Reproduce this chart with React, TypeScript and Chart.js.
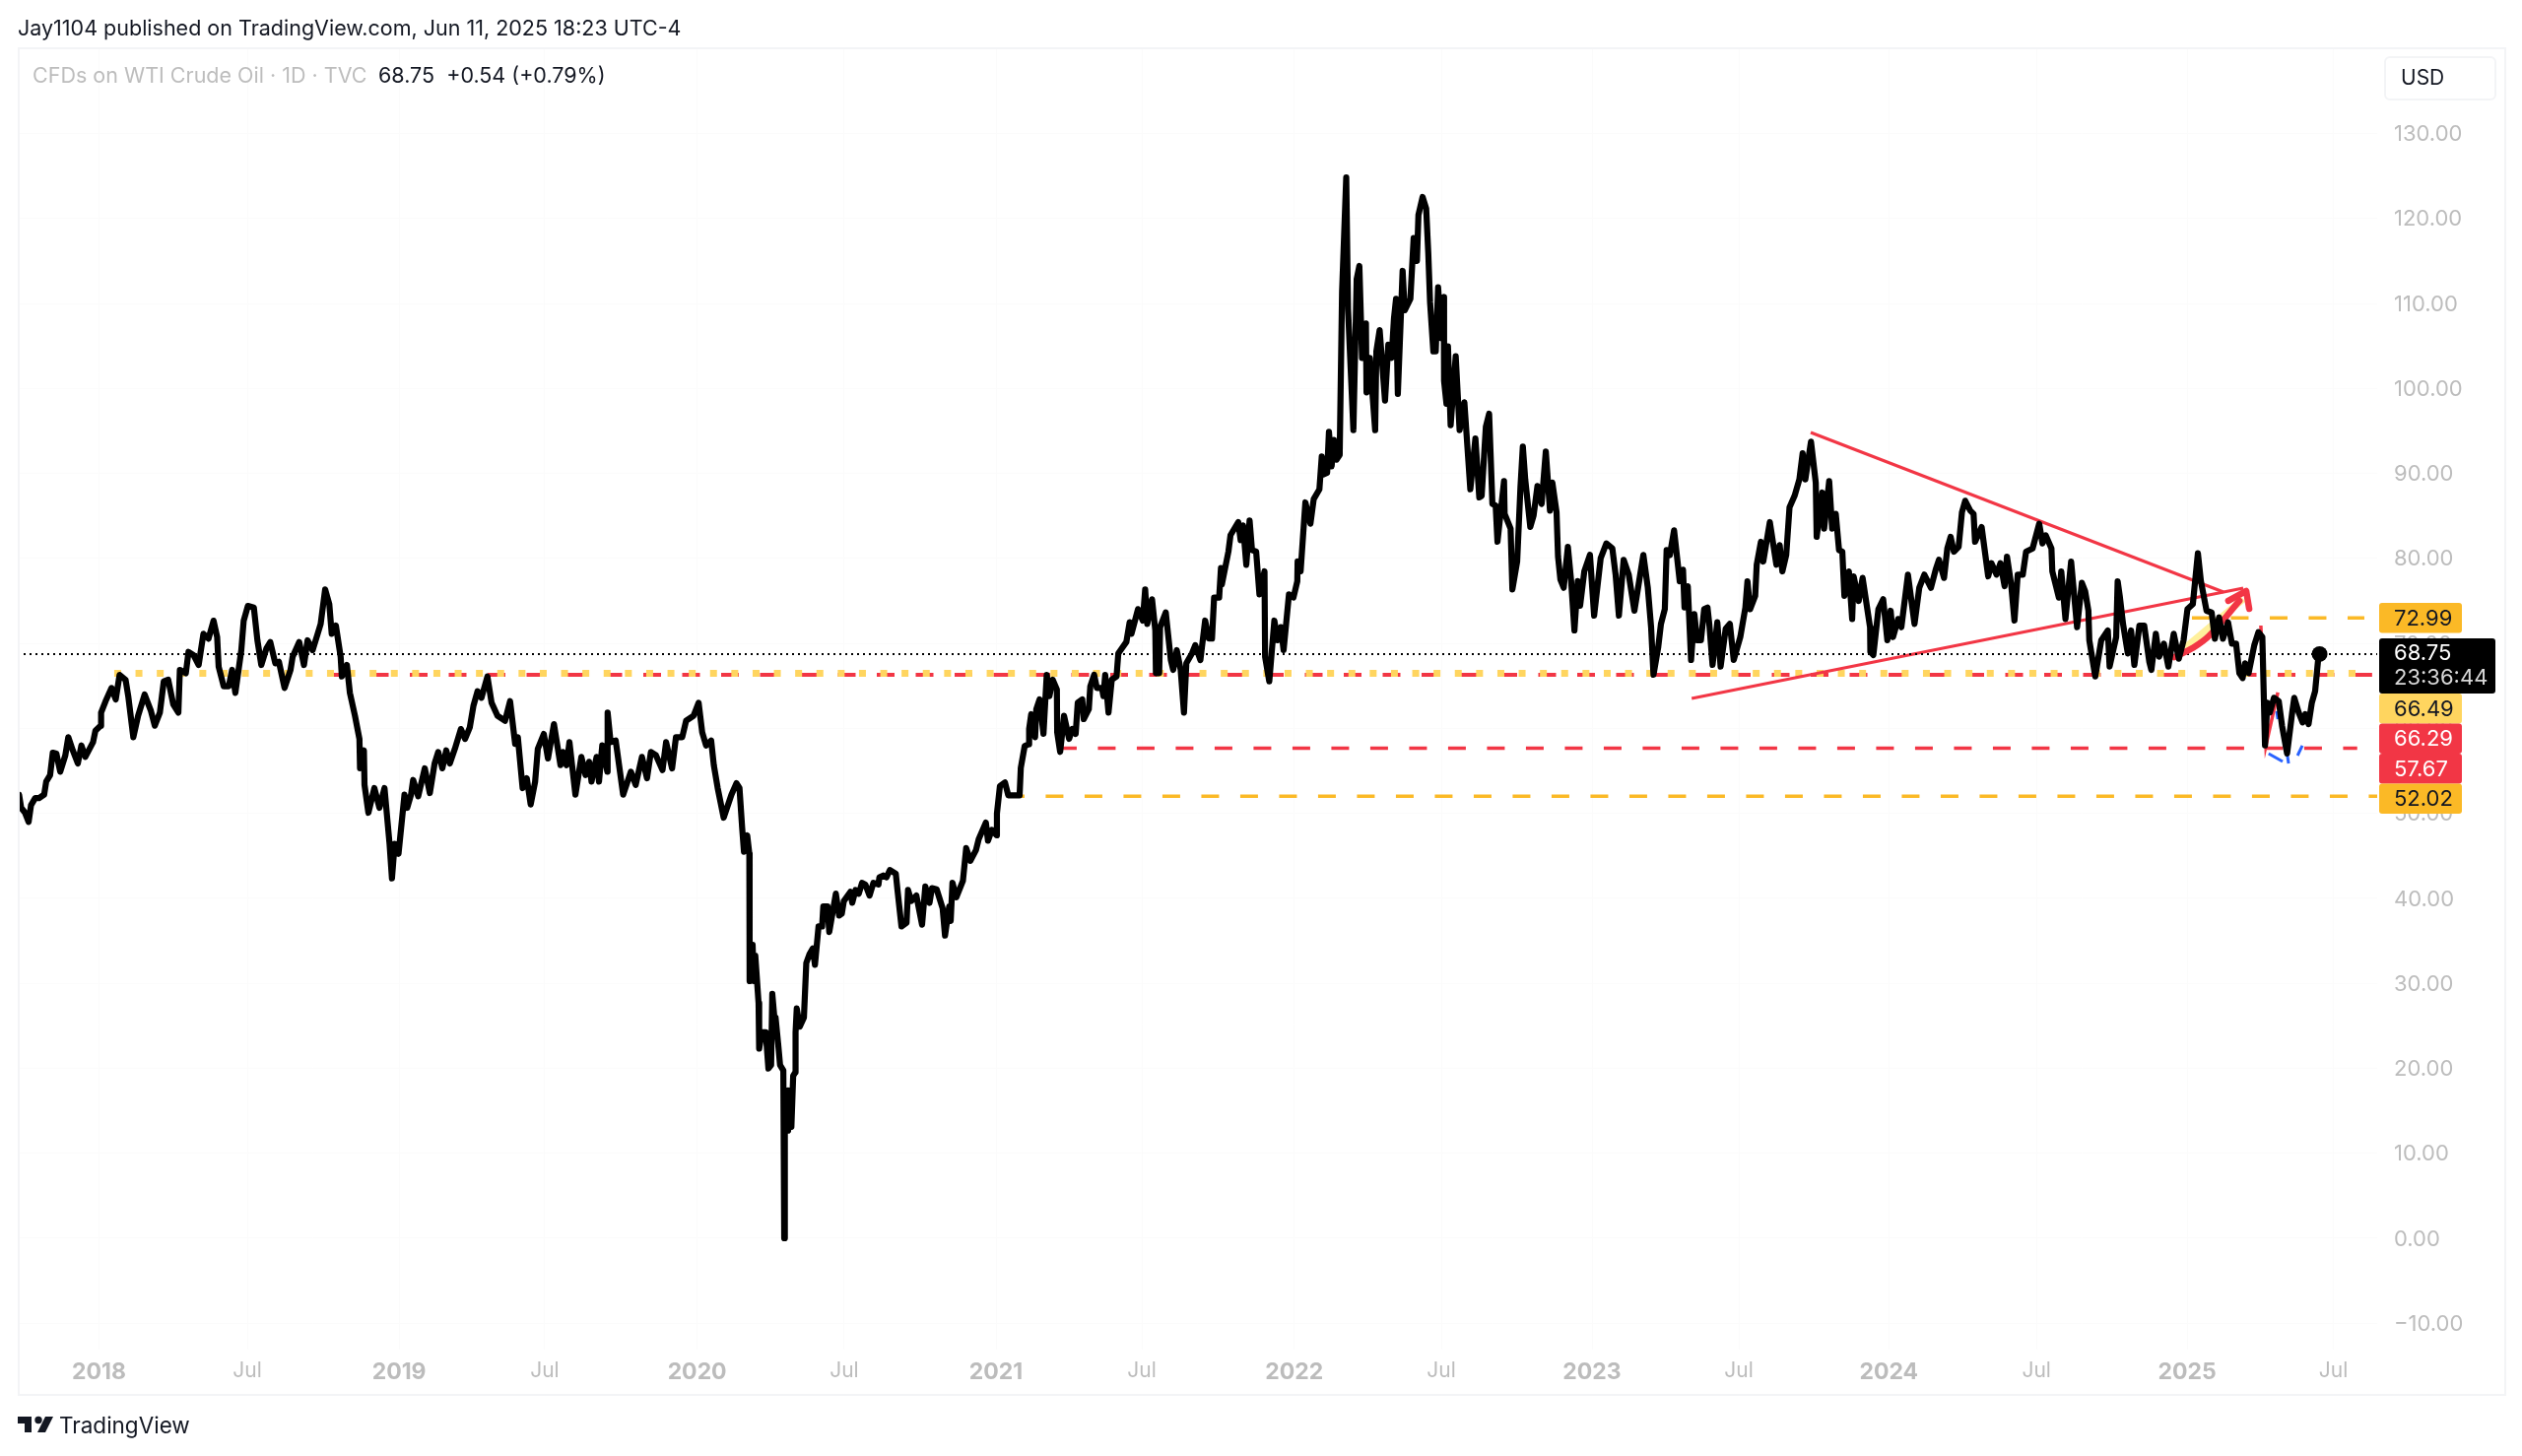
import { useEffect, useRef } from "react"
import { Chart, registerables } from "chart.js"

Chart.register(...registerables)

type Pt = [number, number]

// daily-ish closes, [decimal year, price]
const closes2017: Pt[] = [
  [2017.732, 52.2], [2017.739, 50.65], [2017.752, 50.07], [2017.764, 49.0], [2017.772, 50.96], [2017.786, 51.8], [2017.799, 51.8], [2017.816, 52.2],
  [2017.823, 53.74], [2017.836, 54.5], [2017.845, 57.14], [2017.857, 57.03], [2017.87, 54.9], [2017.887, 56.83], [2017.897, 58.96], [2017.912, 57.41],
  [2017.929, 55.87], [2017.941, 57.99], [2017.954, 56.64], [2017.98, 58.38], [2017.988, 59.73],
]
const closes2018: Pt[] = [
  [2018.005, 60.31], [2018.007, 61.85], [2018.022, 63.2], [2018.042, 64.75], [2018.056, 63.4], [2018.069, 66.3], [2018.089, 65.72], [2018.098, 63.79],
  [2018.115, 58.96], [2018.131, 61.47], [2018.153, 63.98], [2018.174, 62.05], [2018.187, 60.31], [2018.204, 61.85], [2018.217, 65.53], [2018.232, 65.72],
  [2018.249, 62.82], [2018.266, 61.85], [2018.271, 66.88], [2018.291, 66.49], [2018.3, 69.0], [2018.317, 68.6], [2018.334, 67.46], [2018.35, 71.13],
  [2018.367, 70.55], [2018.384, 72.67], [2018.396, 70.74], [2018.401, 67.26], [2018.418, 64.95], [2018.435, 64.95], [2018.446, 66.88], [2018.457, 64.17],
  [2018.477, 69.2], [2018.485, 72.67], [2018.499, 74.41], [2018.519, 74.22], [2018.531, 70.36], [2018.544, 67.46], [2018.561, 69.39], [2018.574, 70.16],
  [2018.591, 67.65], [2018.603, 67.84], [2018.622, 64.75], [2018.642, 66.88], [2018.649, 68.42], [2018.671, 70.16], [2018.687, 67.46], [2018.699, 70.36],
  [2018.716, 69.2], [2018.733, 71.13], [2018.743, 72.29], [2018.758, 76.35], [2018.772, 74.6], [2018.78, 71.13], [2018.794, 72.09], [2018.81, 68.42],
  [2018.814, 66.1], [2018.831, 67.46], [2018.841, 64.17], [2018.858, 61.47], [2018.873, 58.76], [2018.875, 55.3], [2018.888, 57.41], [2018.89, 53.35],
  [2018.903, 50.07], [2018.923, 52.97], [2018.94, 50.65], [2018.957, 52.97], [2018.974, 46.4], [2018.982, 42.34], [2018.991, 46.4],
]
const closes2019: Pt[] = [
  [2019.004, 45.24], [2019.024, 52.2], [2019.033, 50.65], [2019.046, 52.2], [2019.053, 53.93], [2019.07, 52.0], [2019.092, 55.3], [2019.109, 52.39],
  [2019.125, 55.87], [2019.137, 57.22], [2019.151, 55.3], [2019.164, 57.41], [2019.176, 55.87], [2019.193, 57.6], [2019.213, 59.92], [2019.227, 58.76],
  [2019.243, 60.12], [2019.255, 62.63], [2019.269, 64.37], [2019.282, 63.6], [2019.302, 66.1], [2019.316, 63.01], [2019.336, 61.47], [2019.361, 60.89],
  [2019.378, 63.2], [2019.395, 58.18], [2019.404, 58.96], [2019.42, 52.97], [2019.434, 54.13], [2019.447, 51.04], [2019.462, 53.74], [2019.471, 57.6],
  [2019.491, 59.34], [2019.505, 56.45], [2019.525, 60.5], [2019.547, 55.67], [2019.555, 57.22], [2019.567, 55.67], [2019.577, 58.38], [2019.597, 52.2],
  [2019.617, 56.64], [2019.631, 54.51], [2019.643, 56.06], [2019.651, 53.74], [2019.668, 56.64], [2019.676, 53.74], [2019.687, 57.99], [2019.704, 54.9],
  [2019.705, 61.85], [2019.715, 58.38], [2019.732, 58.57], [2019.757, 52.2], [2019.783, 54.9], [2019.799, 53.35], [2019.82, 56.64], [2019.837, 54.13],
  [2019.85, 57.22], [2019.867, 56.83], [2019.889, 55.09], [2019.901, 58.38], [2019.921, 55.29], [2019.934, 58.96], [2019.955, 58.96], [2019.968, 60.89],
  [2019.993, 61.47],
]
const closes2020: Pt[] = [
  [2020.01, 63.01], [2020.022, 59.54], [2020.035, 57.99], [2020.052, 58.57], [2020.061, 55.67], [2020.074, 52.97], [2020.094, 49.49], [2020.12, 52.2],
  [2020.137, 53.55], [2020.147, 52.98], [2020.156, 48.27], [2020.162, 45.48], [2020.173, 47.41], [2020.18, 45.26], [2020.181, 30.26], [2020.191, 34.54],
  [2020.195, 30.26], [2020.2, 33.26], [2020.211, 27.68], [2020.213, 22.32], [2020.222, 24.25], [2020.235, 24.25], [2020.244, 19.97], [2020.253, 20.39],
  [2020.257, 28.75], [2020.264, 25.97], [2020.268, 25.97], [2020.277, 22.75], [2020.283, 20.39], [2020.294, 19.75], [2020.297, 0.0], [2020.299, 17.39],
  [2020.308, 12.67], [2020.31, 17.39], [2020.321, 13.1], [2020.327, 19.11], [2020.334, 19.54], [2020.335, 24.25], [2020.339, 27.04], [2020.349, 24.9],
  [2020.363, 25.97], [2020.371, 32.4], [2020.382, 33.47], [2020.393, 34.11], [2020.4, 32.18], [2020.412, 36.69], [2020.424, 36.69], [2020.428, 39.05],
  [2020.442, 39.05], [2020.448, 36.04], [2020.47, 40.55], [2020.481, 37.97], [2020.49, 38.19], [2020.497, 39.69], [2020.519, 40.76], [2020.525, 39.47],
  [2020.536, 40.98], [2020.547, 40.55], [2020.558, 41.83], [2020.569, 41.62], [2020.583, 40.33], [2020.596, 41.83], [2020.613, 41.62], [2020.616, 42.48],
  [2020.629, 42.69], [2020.64, 42.48], [2020.651, 43.33], [2020.671, 42.91], [2020.676, 41.19], [2020.69, 36.69], [2020.707, 37.12], [2020.712, 40.98],
  [2020.723, 39.69], [2020.74, 40.33], [2020.759, 36.9], [2020.77, 41.4], [2020.784, 39.47], [2020.792, 41.19], [2020.808, 41.06], [2020.828, 38.83],
  [2020.836, 35.62], [2020.85, 39.05], [2020.855, 37.33], [2020.861, 41.83], [2020.874, 40.12], [2020.896, 42.05], [2020.907, 45.91], [2020.921, 44.41],
  [2020.94, 45.69], [2020.949, 46.98], [2020.973, 48.91], [2020.98, 46.77], [2020.993, 48.05],
]
const closes2021: Pt[] = [
  [2021.009, 47.41], [2021.01, 49.98], [2021.02, 53.2], [2021.037, 53.63], [2021.048, 52.12], [2021.086, 52.12], [2021.09, 55.34], [2021.103, 57.91],
  [2021.116, 58.13], [2021.118, 59.93], [2021.125, 61.67], [2021.138, 58.96], [2021.142, 62.25], [2021.153, 63.41], [2021.166, 59.35], [2021.177, 66.3],
  [2021.186, 63.79], [2021.197, 65.73], [2021.211, 64.57], [2021.212, 59.54], [2021.222, 57.23], [2021.235, 61.47], [2021.252, 58.77], [2021.263, 59.93],
  [2021.274, 59.35], [2021.281, 63.02], [2021.296, 63.41], [2021.301, 61.09], [2021.318, 62.25], [2021.323, 64.95], [2021.336, 66.3], [2021.345, 64.76],
  [2021.362, 64.76], [2021.367, 63.79], [2021.373, 66.3], [2021.384, 61.86], [2021.395, 65.73], [2021.411, 66.11], [2021.417, 68.82], [2021.444, 70.17],
  [2021.455, 72.49], [2021.461, 71.13], [2021.483, 74.03], [2021.499, 72.68], [2021.507, 76.35], [2021.514, 72.29], [2021.53, 75.19], [2021.541, 71.52],
  [2021.543, 66.5], [2021.554, 66.5], [2021.557, 71.91], [2021.576, 73.65], [2021.593, 68.04], [2021.601, 66.88], [2021.613, 69.2], [2021.626, 66.88],
  [2021.637, 61.86], [2021.645, 67.66], [2021.664, 68.82], [2021.675, 69.78], [2021.692, 68.04], [2021.708, 72.68], [2021.72, 70.56], [2021.731, 70.56],
  [2021.738, 75.39], [2021.755, 75.39], [2021.761, 78.86], [2021.764, 76.93], [2021.786, 80.79], [2021.793, 82.73], [2021.819, 84.27], [2021.827, 82.15],
  [2021.835, 83.89], [2021.846, 79.25], [2021.857, 84.47], [2021.865, 80.99], [2021.879, 80.8], [2021.89, 75.77], [2021.907, 78.48], [2021.909, 68.43],
  [2021.923, 65.53], [2021.94, 72.68], [2021.951, 70.36], [2021.962, 71.91], [2021.971, 69.2], [2021.989, 75.77],
]
const closes2022: Pt[] = [
  [2022.004, 75.39], [2022.017, 77.32], [2022.018, 79.64], [2022.028, 78.48], [2022.044, 86.59], [2022.061, 84.08], [2022.072, 86.98], [2022.091, 88.13],
  [2022.099, 92.0], [2022.104, 89.87], [2022.117, 90.07], [2022.123, 94.9], [2022.132, 90.84], [2022.14, 93.93], [2022.148, 91.61], [2022.159, 92.19],
  [2022.167, 111.32], [2022.181, 124.84], [2022.187, 109.39], [2022.205, 95.09], [2022.216, 112.86], [2022.225, 114.41], [2022.234, 103.59], [2022.247, 107.65],
  [2022.249, 99.53], [2022.26, 103.59], [2022.278, 95.09], [2022.282, 104.36], [2022.293, 106.87], [2022.311, 98.57], [2022.322, 105.14], [2022.333, 103.59],
  [2022.341, 108.23], [2022.348, 110.54], [2022.354, 99.34], [2022.37, 113.83], [2022.377, 109.19], [2022.396, 110.54], [2022.407, 117.69], [2022.418, 114.99],
  [2022.423, 120.4], [2022.437, 122.52], [2022.449, 121.17], [2022.456, 115.95], [2022.462, 110.16], [2022.473, 104.36], [2022.481, 104.36], [2022.489, 111.9],
  [2022.5, 105.91], [2022.508, 110.74], [2022.509, 100.88], [2022.517, 98.18], [2022.522, 104.94], [2022.531, 95.67], [2022.548, 103.78], [2022.561, 95.09],
  [2022.577, 98.37], [2022.597, 88.13], [2022.614, 94.12], [2022.627, 87.17], [2022.635, 87.36], [2022.649, 95.47], [2022.66, 97.02], [2022.671, 86.4],
  [2022.682, 86.2], [2022.688, 81.95], [2022.71, 89.1], [2022.712, 85.24], [2022.732, 83.5], [2022.738, 76.35], [2022.754, 79.63], [2022.765, 88.33],
  [2022.773, 93.16], [2022.781, 89.29], [2022.798, 83.69], [2022.809, 85.04], [2022.822, 88.52], [2022.836, 86.4], [2022.85, 92.58], [2022.864, 85.62],
  [2022.872, 88.91], [2022.886, 85.43], [2022.891, 80.21], [2022.899, 77.51], [2022.91, 76.54], [2022.924, 81.37], [2022.935, 77.32], [2022.946, 71.52],
  [2022.957, 77.32], [2022.965, 74.42], [2022.979, 78.47], [2022.998, 80.41],
]
const closes2023: Pt[] = [
  [2023.012, 73.26], [2023.034, 80.02], [2023.053, 81.76], [2023.073, 81.18], [2023.084, 78.09], [2023.095, 73.26], [2023.111, 79.83], [2023.128, 78.09],
  [2023.147, 73.84], [2023.177, 80.41], [2023.192, 76.54], [2023.203, 71.9], [2023.211, 66.3], [2023.227, 69.59], [2023.236, 72.29], [2023.249, 74.03],
  [2023.255, 80.98], [2023.266, 80.4], [2023.28, 83.3], [2023.299, 77.31], [2023.31, 78.67], [2023.315, 74.22], [2023.326, 76.73], [2023.337, 68.04],
  [2023.348, 73.45], [2023.357, 70.36], [2023.37, 70.36], [2023.381, 74.03], [2023.392, 74.22], [2023.398, 72.29], [2023.409, 67.46], [2023.425, 72.48],
  [2023.436, 67.27], [2023.453, 71.71], [2023.467, 72.29], [2023.48, 68.04], [2023.502, 70.74], [2023.519, 74.22], [2023.526, 77.31], [2023.535, 74.03],
  [2023.552, 75.58], [2023.557, 79.25], [2023.571, 81.95], [2023.579, 79.63], [2023.601, 84.27], [2023.623, 79.25], [2023.634, 81.56], [2023.643, 78.47],
  [2023.656, 80.4], [2023.667, 86.01], [2023.684, 87.36], [2023.7, 89.29], [2023.711, 92.38], [2023.72, 89.29], [2023.739, 93.74], [2023.755, 88.9],
  [2023.758, 82.53], [2023.777, 87.75], [2023.783, 83.5], [2023.8, 89.1], [2023.81, 83.5], [2023.822, 85.24], [2023.833, 80.98], [2023.844, 80.79],
  [2023.851, 75.58], [2023.866, 78.47], [2023.877, 72.87], [2023.882, 77.89], [2023.899, 74.99], [2023.912, 77.7], [2023.937, 71.9], [2023.938, 69.01],
  [2023.948, 68.62], [2023.965, 74.03], [2023.981, 75.19], [2023.995, 70.36],
]
const closes2024: Pt[] = [
  [2024.006, 73.84], [2024.014, 70.74], [2024.031, 72.87], [2024.042, 71.9], [2024.064, 78.09], [2024.086, 72.29], [2024.102, 76.54], [2024.119, 78.09],
  [2024.141, 76.54], [2024.157, 78.67], [2024.168, 79.83], [2024.185, 77.7], [2024.196, 81.18], [2024.207, 82.53], [2024.218, 80.79], [2024.234, 81.37],
  [2024.245, 85.43], [2024.256, 86.78], [2024.273, 85.62], [2024.284, 85.24], [2024.289, 81.95], [2024.311, 83.69], [2024.333, 77.89], [2024.344, 79.44],
  [2024.361, 78.09], [2024.374, 79.44], [2024.388, 76.73], [2024.396, 80.21], [2024.41, 76.93], [2024.421, 72.68], [2024.432, 78.09], [2024.449, 78.09],
  [2024.46, 80.79], [2024.482, 81.18], [2024.504, 84.08], [2024.515, 81.76], [2024.526, 82.72], [2024.545, 81.18], [2024.548, 78.47], [2024.57, 75.38],
  [2024.578, 78.47], [2024.592, 72.87], [2024.611, 79.63], [2024.631, 71.9], [2024.647, 77.12], [2024.658, 76.15], [2024.669, 73.84], [2024.672, 70.36],
  [2024.692, 66.11], [2024.712, 70.36], [2024.734, 71.52], [2024.74, 67.27], [2024.762, 70.74], [2024.767, 77.31], [2024.774, 75.58], [2024.785, 72.29],
  [2024.801, 68.81], [2024.812, 71.52], [2024.823, 67.46], [2024.84, 72.1], [2024.856, 72.1], [2024.873, 67.85], [2024.88, 66.88], [2024.895, 71.13],
  [2024.906, 68.43], [2024.922, 69.97], [2024.937, 67.27], [2024.955, 71.13], [2024.972, 68.2], [2024.988, 70.36],
]
const closes2025: Pt[] = [
  [2025.001, 74.03], [2025.019, 74.61], [2025.036, 80.6], [2025.046, 77.32], [2025.065, 73.84], [2025.082, 73.64], [2025.093, 70.55], [2025.107, 73.06],
  [2025.12, 70.55], [2025.137, 72.49], [2025.15, 69.97], [2025.164, 69.97], [2025.175, 66.5], [2025.186, 65.92], [2025.194, 67.65], [2025.206, 66.5],
  [2025.225, 69.78], [2025.239, 71.33], [2025.252, 70.75], [2025.261, 57.99], [2025.269, 63.02], [2025.277, 61.86], [2025.291, 63.6], [2025.307, 63.21],
  [2025.318, 60.31], [2025.335, 57.03], [2025.352, 61.86], [2025.359, 63.6], [2025.374, 61.86], [2025.387, 60.7], [2025.396, 61.67], [2025.407, 60.51],
  [2025.418, 63.02], [2025.429, 64.37], [2025.44, 68.43], [2025.444, 68.75],
]

const lastClose: Pt[] = [[2025.444, 68.75]]

// horizontal drawings
const resistanceHigh: Pt[] = [[2025.016, 72.99], [2025.594, 72.99]]
const pivotYellow: Pt[] = [[2018.051, 66.49], [2025.61, 66.49]]
const pivotRed: Pt[] = [[2018.781, 66.29], [2025.62, 66.29]]
const supportRed: Pt[] = [[2021.218, 57.67], [2025.57, 57.67]]
const supportYellow: Pt[] = [[2021.043, 52.02], [2025.637, 52.02]]
const lastPriceLine: Pt[] = [[2017.7275, 68.75], [2025.637, 68.75]]

// triangle + sketched marks near the end
const trendUpper: Pt[] = [[2023.738, 94.82], [2025.122, 76.04]]
const trendLower: Pt[] = [[2023.339, 63.52], [2025.188, 76.5]]
const arrowBody: Pt[] = [[2024.957, 68.39], [2025.017, 69.43], [2025.075, 70.94], [2025.175, 75.0]]
const arrowHead: Pt[] = [[2025.138, 75.0], [2025.198, 76.16], [2025.208, 74.07]]
const arrowFill: Pt[] = [[2024.976, 68.97], [2025.188, 75.23]]
const dropSketch: Pt[] = [[2025.247, 72.1], [2025.264, 57.96], [2025.304, 64.22]]
const blueMarks: Pt[][] = [
  [[2025.273, 57.03], [2025.32, 56.1]],
  [[2025.336, 56.8], [2025.34, 55.87]],
  [[2025.37, 56.8], [2025.386, 57.96]],
  [[2025.3, 62.01], [2025.304, 61.09]],
]

const yTicks = [-10, 0, 10, 20, 30, 40, 50, 60, 70, 80, 90, 100, 110, 120, 130]
const xTickDates = [2018, 2018.497, 2019.006, 2019.494, 2020.005, 2020.498, 2021.007, 2021.496, 2022.007, 2022.5, 2023.005, 2023.497, 2024, 2024.495, 2025, 2025.49]
const xTickLabels = ["2018", "Jul", "2019", "Jul", "2020", "Jul", "2021", "Jul", "2022", "Jul", "2023", "Jul", "2024", "Jul", "2025", "Jul"]

const RED = "#f23645"
const AMBER = "#fbb926"
const PALE = "#ffd55f"
const FONT = "Inter, 'Liberation Sans', sans-serif"

const priceTags = [
  { value: 72.99, bg: AMBER, fg: "#131722" },
  { value: 68.75, bg: "#000000", fg: "#ffffff", sub: "23:36:44" },
  { value: 66.49, bg: PALE, fg: "#131722" },
  { value: 66.29, bg: RED, fg: "#ffffff" },
  { value: 57.67, bg: RED, fg: "#ffffff" },
  { value: 52.02, bg: AMBER, fg: "#131722" },
]

// axis tags stack downward like TradingView does when they collide
const priceTagPlugin = {
  id: "priceTags",
  afterDraw(chart: any) {
    const { ctx, scales } = chart
    let bottom = 0
    ctx.save()
    ctx.font = `22px ${FONT}`
    ctx.textBaseline = "middle"
    priceTags.forEach((tag) => {
      const y = scales.y.getPixelForValue(tag.value)
      const h = tag.sub ? 56 : 30.5
      const top = Math.max(bottom, tag.sub ? y - 16 : y - h / 2)
      const w = tag.sub ? 118 : 84
      ctx.fillStyle = tag.bg
      ctx.beginPath()
      ctx.roundRect(2415, top, w, h, 3)
      ctx.fill()
      ctx.fillStyle = tag.fg
      ctx.fillText(tag.value.toFixed(2), 2430, tag.sub ? top + 16 : top + h / 2 + 1)
      if (tag.sub) {
        ctx.fillStyle = "#d8d8d8"
        ctx.fillText(tag.sub, 2430, top + 41)
      }
      bottom = top + h
    })
    ctx.restore()
  },
}

function lineSet(points: Pt[], color: string, width: number, dash: number[] = [], order = 5, extra: object = {}) {
  return {
    data: points.map(([x, y]) => ({ x, y })),
    borderColor: color,
    borderWidth: width,
    borderDash: dash,
    pointRadius: 0,
    order,
    ...extra,
  }
}

function OilChart() {
  const chartRef = useRef<HTMLCanvasElement>(null)

  useEffect(() => {
    if (!chartRef.current) return
    const closes = [
      ...closes2017, ...closes2018, ...closes2019, ...closes2020, ...closes2021,
      ...closes2022, ...closes2023, ...closes2024, ...closes2025,
    ]
    const chart = new Chart(chartRef.current, {
      type: "line",
      data: {
        datasets: [
          lineSet(closes, "#000000", 6.2, [], 0, { borderJoinStyle: "round", borderCapStyle: "round" }),
          { ...lineSet(lastClose, "#000000", 0, [], 0), pointRadius: 8, pointBackgroundColor: "#000000" },
          lineSet(lastPriceLine, "#000000", 2, [2, 4], 4),
          lineSet(pivotYellow, PALE, 7, [7, 14.6], 6),
          lineSet(pivotRed, RED, 4, [18, 21.5], 7),
          lineSet(resistanceHigh, AMBER, 3.6, [18, 21.5], 7),
          lineSet(supportRed, RED, 3.6, [18, 21.5], 7),
          lineSet(supportYellow, AMBER, 3.6, [18, 21.5], 7),
          lineSet(trendUpper, RED, 3.2),
          lineSet(trendLower, RED, 3.2),
          lineSet(arrowFill, "#fff09c", 7, [], 6),
          lineSet(arrowBody, RED, 6.5, [], 3, { tension: 0.4, borderCapStyle: "round" }),
          lineSet(arrowHead, RED, 6.5, [], 3, { borderCapStyle: "round", borderJoinStyle: "round" }),
          lineSet(dropSketch, RED, 3.5, [], 3),
          ...blueMarks.map((mark) => lineSet(mark, "#2962ff", 3, [], 3)),
        ] as any,
      },
      options: {
        responsive: false,
        animation: false,
        devicePixelRatio: 1,
        layout: { padding: { left: 18, top: 48, right: 0, bottom: 0 } },
        plugins: { legend: { display: false }, tooltip: { enabled: false } },
        scales: {
          x: {
            type: "linear",
            min: 2017.7275,
            max: 2025.637,
            afterBuildTicks: (scale: any) => {
              scale.ticks = xTickDates.map((value) => ({ value }))
            },
            afterFit: (scale: any) => {
              scale.height = 108
            },
            grid: { color: "#fbfbfb", drawTicks: false },
            border: { display: false },
            ticks: {
              autoSkip: false,
              maxRotation: 0,
              padding: 9,
              color: "#bcbcbc",
              font: (ctx: any) => ({ family: FONT, size: ctx.index % 2 === 0 ? 23 : 21, weight: ctx.index % 2 === 0 ? 700 : 400 }),
              callback: (_value: any, index: number) => xTickLabels[index],
            },
          },
          y: {
            type: "linear",
            position: "right",
            min: -13.1,
            max: 140.14,
            afterBuildTicks: (scale: any) => {
              scale.ticks = yTicks.map((value) => ({ value }))
            },
            afterFit: (scale: any) => {
              scale.width = 147
            },
            grid: { color: "#fbfbfb", drawTicks: false },
            border: { display: false },
            ticks: {
              padding: 17,
              labelOffset: 1,
              color: "#bcbcbc",
              font: { family: FONT, size: 22 },
              callback: (value: any) => (Number(value) < 0 ? "\u2212" : "") + Math.abs(Number(value)).toFixed(2),
            },
          },
        },
      } as any,
      plugins: [priceTagPlugin],
    })
    return () => chart.destroy()
  }, [])

  return <canvas ref={chartRef} width={2560} height={1478} style={{ display: "block" }} />
}

const textStyle = { position: "absolute", fontFamily: FONT, whiteSpace: "pre", lineHeight: 1 } as const

export default function App() {
  return (
    <div style={{ position: "absolute", left: 0, top: 0, width: 2560, height: 1478, background: "#fff", overflow: "hidden" }}>
      <OilChart />
      <div style={{ position: "absolute", left: 18, top: 48, width: 2522, height: 1365, border: "2px solid #f3f4f6", pointerEvents: "none" }} />
      <div style={{ ...textStyle, left: 18, top: 18, fontSize: 21.5, color: "#131722" }}>
        Jay1104 published on TradingView.com, Jun 11, 2025 18:23 UTC-4
      </div>
      <div style={{ ...textStyle, left: 33, top: 66, fontSize: 21.5, color: "#bdbdbd" }}>CFDs on WTI Crude Oil · 1D · TVC</div>
      <div style={{ ...textStyle, left: 384, top: 66, fontSize: 21.5, color: "#131722" }}>68.75  +0.54 (+0.79%)</div>
      <div style={{ position: "absolute", left: 2420, top: 57, width: 114, height: 45, border: "2px solid #f3f4f6", borderRadius: 6, boxSizing: "border-box" }} />
      <div style={{ ...textStyle, left: 2437, top: 68, fontSize: 21, color: "#131722" }}>USD</div>
      <svg style={{ position: "absolute", left: 18, top: 1436 }} width="36" height="20" viewBox="0 0 36 20">
        <path fill="#131722" d="M14 2H0v7h7v9h7V2zM28 18h-8l8-16h8l-8 16z" />
        <circle cx="21" cy="5.5" r="3.7" fill="#131722" />
      </svg>
      <div style={{ ...textStyle, left: 60, top: 1436, fontSize: 22.5, color: "#131722" }}>TradingView</div>
    </div>
  )
}
